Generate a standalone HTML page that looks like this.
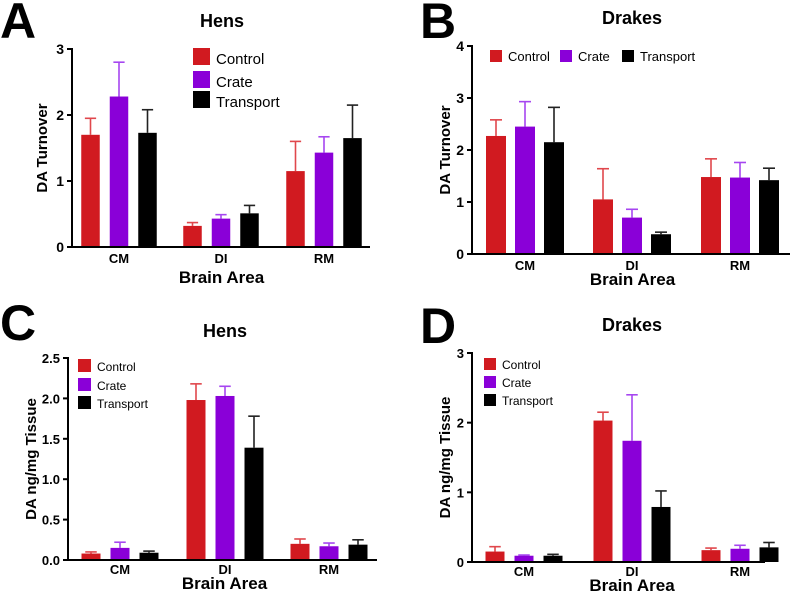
<!DOCTYPE html>
<html><head><meta charset="utf-8"><style>
body{margin:0;background:#fff;width:791px;height:594px;overflow:hidden}
svg{display:block;font-family:"Liberation Sans",Arial,sans-serif}
</style></head><body>
<svg id="fig" width="791" height="594" viewBox="0 0 791 594"></svg>
<script>
const categories = ["CM","DI","RM"];
const seriesNames = ["Control","Crate","Transport"];
// Panel A: Hens DA turnover
const aControl=[1.70,0.32,1.15], aControlErr=[0.25,0.05,0.45];
const aCrate=[2.28,0.43,1.43], aCrateErr=[0.52,0.06,0.24];
const aTransport=[1.73,0.51,1.65], aTransportErr=[0.35,0.12,0.50];
const aTicks=["0","1","2","3"];
// Panel B: Drakes DA turnover
const bControl=[2.27,1.05,1.48], bControlErr=[0.31,0.59,0.35];
const bCrate=[2.45,0.70,1.47], bCrateErr=[0.48,0.16,0.29];
const bTransport=[2.15,0.38,1.42], bTransportErr=[0.67,0.04,0.23];
const bTicks=["0","1","2","3","4"];
// Panel C: Hens DA ng/mg
const cControl=[0.08,1.98,0.20], cControlErr=[0.02,0.20,0.06];
const cCrate=[0.15,2.03,0.17], cCrateErr=[0.07,0.12,0.04];
const cTransport=[0.09,1.39,0.19], cTransportErr=[0.02,0.39,0.06];
const cTicks=["0.0","0.5","1.0","1.5","2.0","2.5"];
// Panel D: Drakes DA ng/mg
const dControl=[0.15,2.03,0.17], dControlErr=[0.07,0.12,0.03];
const dCrate=[0.09,1.74,0.19], dCrateErr=[0.01,0.66,0.05];
const dTransport=[0.09,0.79,0.21], dTransportErr=[0.02,0.23,0.07];
const dTicks=["0","1","2","3"];

const fill=["#d11a20","#8a00d8","#000"];
const errc=["#e0474c","#a646f0","#222"];
const NS="http://www.w3.org/2000/svg";
const svg=document.getElementById("fig");
function mk(tag,attrs,parent,text){const e=document.createElementNS(NS,tag);for(const k in attrs)e.setAttribute(k,attrs[k]);if(text!==undefined)e.textContent=text;(parent||svg).appendChild(e);return e;}

function panel(p){
  const g=mk("g",{});
  
  
  const ymax=parseFloat(p.ticks[p.ticks.length-1]);
  const y=v=>p.y0-(v/ymax)*(p.y0-p.yTop);
  const x=(ci,si)=>p.centers[ci]+(si-1)*p.step;
  const L=mk("text",{x:p.lx,y:p.ly,"font-size":50,"font-weight":"bold"},g,p.letter);
  
  const T=mk("text",{x:p.tx,y:p.ty,"font-size":18,"font-weight":"bold","text-anchor":"middle"},g,p.title);
  
  for(let s=0;s<3;s++){for(let c=0;c<3;c++){
    const v=p.vals[s][c],e=p.errs[s][c],cx=x(c,s);
    const ln=mk("line",{x1:cx,x2:cx,y1:y(v),y2:y(v+e),stroke:errc[s],"stroke-width":1.6},g);
    
    const cap=mk("line",{x1:cx-p.bw/4-1,x2:cx+p.bw/4+1,y1:y(v+e),y2:y(v+e),stroke:errc[s],"stroke-width":1.6},g);
    
    const r=mk("rect",{x:cx-p.bw/2,y:y(v),width:p.bw,height:p.y0-y(v),fill:fill[s]},g);
    
    
  }}
  const ya=mk("line",{x1:p.ax,x2:p.ax,y1:p.yTop-1,y2:p.y0+1,stroke:"#000","stroke-width":2},g);
  
  const xa=mk("line",{x1:p.ax-1,x2:p.xEnd,y1:p.y0,y2:p.y0,stroke:"#000","stroke-width":2},g);
  
  p.ticks.forEach(t=>{const v=parseFloat(t),yy=y(v);
    const tk=mk("line",{x1:p.ax-5,x2:p.ax,y1:yy,y2:yy,stroke:"#000","stroke-width":2},g);
    
    const tl=mk("text",{x:p.ax-8,y:yy+5,"font-size":p.tf,"font-weight":"bold","text-anchor":"end"},g,t);
    
  });
  categories.forEach((c,i)=>{
    const cl=mk("text",{x:p.centers[i],y:p.y0+p.xlOff,"font-size":13,"font-weight":"bold","text-anchor":"middle"},g,c);
    
  });
  const xt=mk("text",{x:(p.centers[0]+p.centers[2])/2,y:p.y0+p.xtOff,"font-size":17,"font-weight":"bold","text-anchor":"middle"},g,"Brain Area");
  
  const ycx=p.ax-p.ytOff, ycy=(p.y0+p.yTop)/2;
  const yt=mk("text",{x:ycx,y:ycy,"font-size":p.ytSize,"font-weight":"bold","text-anchor":"middle",transform:`rotate(-90 ${ycx} ${ycy})`},g,p.ytitle);
  
  p.leg.forEach((pos,s)=>{
    const lg=mk("g",{},g);
    
    mk("rect",{x:pos[0],y:pos[1],width:p.lb,height:p.lb,fill:fill[s]},lg);
    mk("text",{x:pos[0]+p.lb+6,y:pos[1]+p.lb-1,"font-size":p.lf},lg,seriesNames[s]);
  });
}
panel({id:"a",letter:"A",lx:0,ly:38,title:"Hens",tx:222,ty:27,ticks:aTicks,
  vals:[aControl,aCrate,aTransport],errs:[aControlErr,aCrateErr,aTransportErr],
  ax:72,y0:247,yTop:49,xEnd:370,centers:[119,221,324],step:28.5,bw:18.5,tf:14,xlOff:16,xtOff:36,
  ytitle:"DA Turnover",ytOff:25,ytSize:15,leg:[[193,48],[193,71],[193,91]],lb:17,lf:15});
panel({id:"b",letter:"B",lx:420,ly:38,title:"Drakes",tx:632,ty:24,ticks:bTicks,
  vals:[bControl,bCrate,bTransport],errs:[bControlErr,bCrateErr,bTransportErr],
  ax:472,y0:254,yTop:46,xEnd:790,centers:[525,632,740],step:29,bw:20,tf:14,xlOff:16,xtOff:31,
  ytitle:"DA Turnover",ytOff:22,ytSize:15,leg:[[490,50],[560,50],[622,50]],lb:12,lf:13});
panel({id:"c",letter:"C",lx:0,ly:340,title:"Hens",tx:225,ty:337,ticks:cTicks,
  vals:[cControl,cCrate,cTransport],errs:[cControlErr,cCrateErr,cTransportErr],
  ax:68,y0:560,yTop:358,xEnd:377,centers:[120,225,329],step:29,bw:19,tf:13,xlOff:14,xtOff:29,
  ytitle:"DA ng/mg Tissue",ytOff:32,ytSize:15,leg:[[78,359],[78,378],[78,396]],lb:13,lf:12});
panel({id:"d",letter:"D",lx:420,ly:343,title:"Drakes",tx:632,ty:331,ticks:dTicks,
  vals:[dControl,dCrate,dTransport],errs:[dControlErr,dCrateErr,dTransportErr],
  ax:472,y0:562,yTop:353,xEnd:765,centers:[524,632,740],step:29,bw:19,tf:13,xlOff:14,xtOff:29,
  ytitle:"DA ng/mg Tissue",ytOff:22,ytSize:15,leg:[[484,358],[484,376],[484,394]],lb:12,lf:12});
</script>
</body></html>
